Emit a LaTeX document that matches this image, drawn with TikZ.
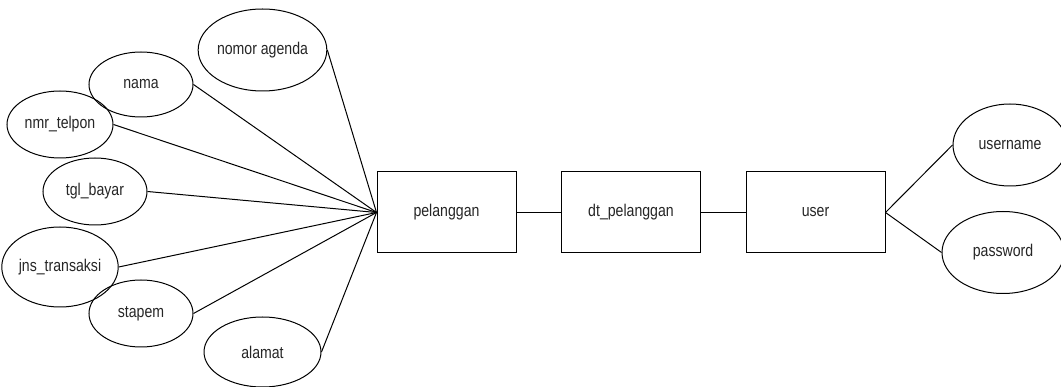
\documentclass[tikz,border=0pt]{standalone}
\usepackage{fontspec}
\setmainfont{Liberation Sans}[FakeStretch=0.83]
\usetikzlibrary{shapes.geometric}
\begin{document}
\begin{tikzpicture}[x=1pt,y=-1pt,
  every node/.style={font=\fontsize{17}{19}\selectfont, text=black!85},
  attr/.style={draw, ellipse, line width=1pt, inner sep=0pt},
  entity/.style={draw, rectangle, line width=1pt, minimum width=139pt, minimum height=81pt, inner sep=0pt},
  link/.style={line width=1pt}]
\useasboundingbox (0,0) rectangle (1061,387);
\fill[white] (0,0) rectangle (1061,387);

% entities
\node[entity] (pelanggan) at (446.5,212.5) {pelanggan};
\node[entity] (dt) at (631,212.5) {dt\_pelanggan};
\node[entity] (user) at (815.5,212.5) {user};

% attributes of pelanggan
\node[attr, minimum width=117pt, minimum height=82pt] (agenda) at (262.5,50) {nomor agenda};
\node[attr, minimum width=104pt, minimum height=65pt] (nama) at (141,84.5) {nama};
\node[attr, minimum width=106pt, minimum height=67pt] (telpon) at (60,124.5) {nmr\_telpon};
\node[attr, minimum width=104pt, minimum height=67pt] (bayar) at (95,191.5) {tgl\_bayar};
\node[attr, minimum width=106pt, minimum height=80pt] (transaksi) at (60,267) {jns\_transaksi};
\node[attr, minimum width=104pt, minimum height=67pt] (stapem) at (141,313.5) {stapem};
\node[attr, minimum width=117pt, minimum height=70pt] (alamat) at (262.5,352) {alamat};

% attributes of user
\node[attr, minimum width=114pt, minimum height=82pt] (username) at (1010,145) {username};
\node[attr, minimum width=122pt, minimum height=82pt] (password) at (1003,252.5) {password};

% connectors
\foreach \a in {agenda,nama,telpon,bayar,transaksi,stapem,alamat}
  \draw[link] (\a.east) -- (pelanggan.west);
\draw[link] (pelanggan) -- (dt);
\draw[link] (dt) -- (user);
\draw[link] (user.east) -- (username.west);
\draw[link] (user.east) -- (password.west);
\end{tikzpicture}
\end{document}
